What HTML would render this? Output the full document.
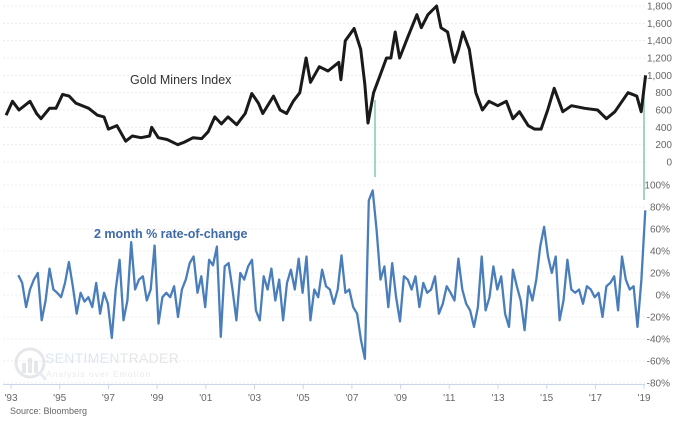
<!DOCTYPE html>
<html><head><meta charset="utf-8"><style>
html,body{margin:0;padding:0;background:#fff;}
svg{display:block;font-family:"Liberation Sans",sans-serif;}
</style></head><body>
<svg id="chart" width="680" height="421" viewBox="0 0 680 421" xmlns="http://www.w3.org/2000/svg">
<g id="grid"></g>
<g id="watermark" opacity="0.45">
  <circle cx="30" cy="363" r="14" fill="none" stroke="#c9ccd2" stroke-width="3"/>
  <line x1="40" y1="373" x2="46" y2="380" stroke="#c9d6e6" stroke-width="3"/>
  <rect x="22" y="363" width="4" height="10" fill="#c9ccd2"/><rect x="28" y="358" width="4" height="15" fill="#c9ccd2"/><rect x="34" y="361" width="4" height="12" fill="#c9ccd2"/>
  <text x="45" y="363" font-size="14" fill="#b8c9e0" letter-spacing="0.3">SENTIMEN<tspan fill="#c8c8c8">TRADER</tspan></text>
  <text x="46" y="377" font-size="8.5" fill="#cfcfcf" letter-spacing="1">Analysis over Emotion</text>
</g>
<g id="ylabels" font-size="10" fill="#666" text-anchor="end"></g>
<g id="xaxis"></g>
<line x1="375" y1="100" x2="375" y2="177" stroke="#6cc49a" stroke-width="1.3"/>
<line x1="644" y1="89" x2="644" y2="200" stroke="#6cc49a" stroke-width="1.3"/>
<path id="gold" fill="none" stroke="#1a1a1a" stroke-width="3" stroke-linejoin="round"/>
<path id="roc" fill="none" stroke="#4a7ebb" stroke-width="2.3" stroke-linejoin="round"/>
<text x="130" y="84" font-size="12.5" fill="#333">Gold Miners Index</text>
<text x="94" y="238" font-size="12.5" font-weight="bold" fill="#3e6aa8">2 month % rate-of-change</text>
<text x="10" y="414" font-size="9" fill="#666">Source: Bloomberg</text>
</svg>
<script>
const goldYears=[1992.80,1993.06,1993.33,1993.78,1994.05,1994.23,1994.58,1994.85,1995.12,1995.39,1995.66,1996.19,1996.55,1996.82,1997.0,1997.35,1997.71,1997.98,1998.34,1998.69,1998.78,1999.05,1999.41,1999.85,2000.12,2000.48,2000.83,2001.10,2001.37,2001.64,2001.91,2002.27,2002.62,2002.89,2003.16,2003.34,2003.78,2004.05,2004.32,2004.59,2004.86,2005.12,2005.30,2005.66,2006.02,2006.46,2006.55,2006.73,2007.09,2007.36,2007.53,2007.66,2007.89,2008.16,2008.42,2008.60,2008.78,2008.96,2009.31,2009.67,2009.85,2010.12,2010.48,2010.66,2010.93,2011.20,2011.38,2011.56,2011.82,2012.09,2012.36,2012.63,2012.99,2013.34,2013.61,2013.88,2014.24,2014.50,2014.77,2015.04,2015.31,2015.66,2016.02,2016.56,2017.09,2017.45,2017.80,2018.34,2018.70,2018.88,2019.06];
const goldValues=[540,700,600,700,560,500,620,620,780,760,680,620,540,520,380,420,240,300,280,300,400,280,260,200,230,280,270,350,520,440,520,430,560,790,680,560,760,600,560,700,800,1200,920,1100,1050,1150,950,1400,1540,1300,900,450,800,1000,1200,1200,1500,1200,1450,1700,1550,1700,1800,1550,1500,1150,1300,1500,1300,800,600,700,650,700,500,580,420,380,380,600,850,580,650,620,600,500,580,800,760,580,1000];
const rocValues=[18,11,-11,5,14,20,-23,-5,24,5,2,-2,11,30,8,-17,2,-6,-2,-11,11,-17,2,-8,-39,5,32,-23,-5,48,5,14,17,-5,5,45,-26,-2,2,-2,8,-20,5,14,29,35,2,17,-11,32,27,44,-38,26,
29,5,-23,20,14,26,32,-14,-23,17,5,24,-5,14,-23,11,23,5,33,2,35,-23,5,-2,23,8,5,-8,5,36,2,5,-11,-17,-41,-58,86,95,59,14,26,-11,29,-2,-24,17,14,5,17,-11,11,2,5,17,-17,-8,8,
2,-5,33,5,-8,-14,-29,-11,35,-14,-2,26,5,17,-17,-29,23,8,-5,-32,8,-5,14,44,62,35,20,35,-23,-5,32,5,2,5,-8,8,5,-2,2,-20,8,11,17,-14,35,14,5,8,-29,14,77];
const rocStart=1993.3, rocEnd=2019.05;
const goldTicks=[0,200,400,600,800,1000,1200,1400,1600,1800];
const rocTicks=[-80,-60,-40,-20,0,20,40,60,80,100];
const yearTicks=[1993,1995,1997,1999,2001,2003,2005,2007,2009,2011,2013,2015,2017,2019];
const yearLabels=["'93","'95","'97","'99","'01","'03","'05","'07","'09","'11","'13","'15","'17","'19"];

const NS="http://www.w3.org/2000/svg";
const xS=y=>11+(y-1993)*24.35;
const yG=v=>162-v*156/1800;
const yR=v=>295-v*1.1;
const grid=document.getElementById('grid'), yl=document.getElementById('ylabels'), xa=document.getElementById('xaxis');
function gl(y){const l=document.createElementNS(NS,'line');


l.setAttribute('x1',3);l.setAttribute('x2',645);l.setAttribute('y1',y);l.setAttribute('y2',y);l.setAttribute('stroke','#ececec');l.setAttribute('stroke-dasharray','2,2');grid.appendChild(l);}
function lab(x,y,t,g,anchor){const e=document.createElementNS(NS,'text');


e.setAttribute('x',x);e.setAttribute('y',y);if(anchor)e.setAttribute('text-anchor',anchor);e.textContent=t;g.appendChild(e);}
goldTicks.forEach(v=>{gl(yG(v));lab(672,yG(v)+3.5,v.toLocaleString('en-US'),yl);});
rocTicks.forEach(v=>{gl(yR(v));lab(670,yR(v)+3.5,v+'%',yl);});
const ax=document.createElementNS(NS,'line');


ax.setAttribute('x1',3);ax.setAttribute('x2',645);ax.setAttribute('y1',384.5);ax.setAttribute('y2',384.5);ax.setAttribute('stroke','#ccd6eb');xa.appendChild(ax);
xa.setAttribute('font-size','10');xa.setAttribute('fill','#666');
yearTicks.forEach((yr,i)=>{const t=document.createElementNS(NS,'line');


t.setAttribute('x1',xS(yr));t.setAttribute('x2',xS(yr));t.setAttribute('y1',384);t.setAttribute('y2',389);t.setAttribute('stroke','#ccd6eb');xa.appendChild(t);
lab(xS(yr),401,yearLabels[i],xa,'middle');});
document.getElementById('gold').setAttribute('d',goldValues.map((v,i)=>(i?'L':'M')+xS(goldYears[i]).toFixed(1)+' '+yG(v).toFixed(1)).join(''));
const n=rocValues.length;
document.getElementById('roc').setAttribute('d',rocValues.map((v,i)=>{const yr=rocStart+(rocEnd-rocStart)*i/(n-1);return (i?'L':'M')+xS(yr).toFixed(1)+' '+yR(v).toFixed(1);}).join(''));
</script>
</body></html>
